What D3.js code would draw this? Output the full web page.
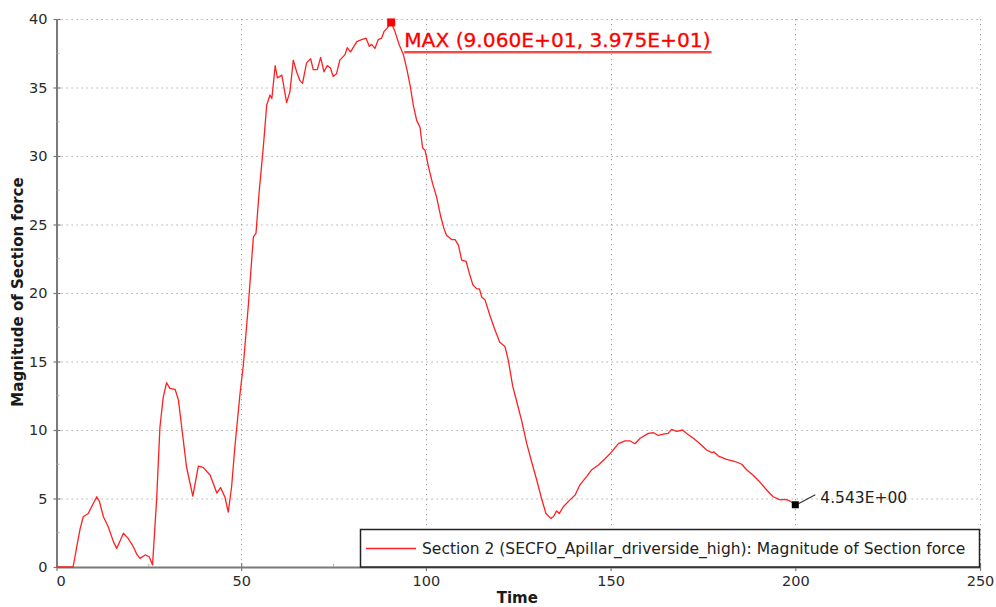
<!DOCTYPE html>
<html>
<head>
<meta charset="utf-8">
<script src="https://cdn.jsdelivr.net/npm/d3@7"></script>
<style>
html,body{margin:0;padding:0;background:#fff;}
svg{display:block;font-family:"DejaVu Sans",sans-serif;}
</style>
</head>
<body>
<svg id="chart" width="996" height="607"></svg>
<script>
const time = [0,4.5,5.5,6.4,7.25,8.6,9.5,10.9,11.6,12.7,14,15.4,16.3,17.2,18.1,19.4,20.8,21.8,22.6,24,25.1,26,27.1,28,28.9,29.8,30.7,32.1,33,33.9,35.2,36.9,38.4,39.7,41.6,43.4,44.4,45.6,46.5,47.4,48.3,49.7,50.6,51.9,53.3,54,54.9,56,56.9,57.8,58.3,59.2,59.8,61,62.3,63.2,64.1,65,65.9,66.6,67.7,68.8,69.5,70.6,71.5,72.4,73.3,74.2,74.9,75.8,76.7,78.1,78.7,79.6,81.3,82.6,83.8,84.7,85.3,86.2,87.1,88,88.7,89.4,90.6,91.6,92.8,93.9,94.8,95.7,96.6,97.5,98.4,99.1,99.8,100.7,101.8,102.9,104,104.9,105.6,107,107.9,108.8,109.7,110.9,111.8,112.7,113.8,114.5,115.1,116,117.4,118.7,120,121.4,122.3,123.5,124.7,125.9,127.3,128.6,130,131.3,132.5,133.8,134.5,135.4,136.1,137.2,139,140.4,141.7,143.5,144.9,146.7,148.5,150.3,152.1,153.9,155.3,156.6,158,160.2,161.6,162.9,164.3,165.6,166.5,167.9,169.5,170.6,172.4,174.2,176,177.4,178,179.2,181.4,183.7,185.5,186.8,188.6,190.4,192.3,194,195.9,197.2,198.4,200];
const force = [0,0,1.5,2.8,3.67,3.9,4.4,5.13,4.8,3.67,2.94,1.85,1.36,1.9,2.46,2.09,1.48,0.9,0.63,0.88,0.75,0.15,4.9,10.2,12.4,13.45,13.04,12.97,12.2,10.2,7.3,5.18,7.37,7.27,6.7,5.4,5.8,5.1,4.0,5.86,8.8,12.7,14.8,19.0,24.1,24.35,27.5,30.7,33.7,34.45,34.2,36.6,35.7,35.9,33.9,34.7,37.0,36.15,35.5,35.3,36.8,37.1,36.3,36.3,37.2,36.15,36.6,36.4,35.8,36.0,37.0,37.4,37.9,37.6,38.35,38.5,38.6,38.0,38.15,37.85,38.5,38.6,39.1,39.3,39.75,39.1,38.1,37.4,36.4,35.2,33.7,32.6,32.1,30.6,30.4,29.2,28.0,27.0,25.6,24.7,24.2,23.9,23.9,23.5,22.4,22.3,21.4,20.6,20.3,20.3,19.7,19.5,18.3,17.3,16.4,16.1,15.1,13.2,11.95,10.7,9.0,7.7,6.35,5.0,3.9,3.55,3.67,4.1,3.9,4.4,4.9,5.25,6.0,6.6,7.1,7.45,7.9,8.4,9.0,9.2,9.2,9.0,9.4,9.75,9.8,9.6,9.7,9.75,10.05,9.9,10.0,9.75,9.4,9.0,8.54,8.35,8.4,8.1,7.86,7.7,7.5,7.1,6.7,6.2,5.6,5.13,4.9,4.94,4.84,4.543];
const xTicks = [0,50,100,150,200,250];
const yTicks = [0,5,10,15,20,25,30,35,40];
const xMinor = [25,75,125,175,225];
const yMinor = [2.5,7.5,12.5,17.5,22.5,27.5,32.5,37.5];
const maxPoint = [90.6, 39.75];
const endPoint = [200, 4.543];
const maxLabel = "MAX (9.060E+01, 3.975E+01)";
const endLabel = "4.543E+00";
const seriesName = "Section 2 (SECFO_Apillar_driverside_high): Magnitude of Section force";
const xTitle = "Time";
const yTitle = "Magnitude of Section force";

const svg = d3.select("#chart");
const x = d3.scaleLinear().domain([0,250]).range([56.5,980]);
const y = d3.scaleLinear().domain([0,40]).range([567,19]);
const L = x.range()[0], R = x.range()[1], T = y.range()[1], B = y.range()[0];

// grid
const grid = svg.append("g");
grid.selectAll("line.h").data(yTicks.filter(d=>d>0)).join("line")
  .attr("x1",L).attr("x2",R).attr("y1",d=>y(d)+0.5).attr("y2",d=>y(d)+0.5)
  .attr("stroke","#9a9a9a").attr("stroke-width",1).attr("stroke-dasharray","1.2,3.8");
grid.selectAll("line.v").data(xTicks.filter(d=>d>0)).join("line")
  .attr("y1",T).attr("y2",B).attr("x1",d=>Math.round(x(d))+0.5).attr("x2",d=>Math.round(x(d))+0.5)
  .attr("stroke","#9a9a9a").attr("stroke-width",1).attr("stroke-dasharray","1.2,3.8");

// axes
const axisCol = "#7a7a7a";
const yAxis = svg.append("g").attr("transform",`translate(${L},0)`)
  .call(d3.axisLeft(y).tickValues(yTicks).tickSizeInner(4).tickSizeOuter(0).tickPadding(5));
yAxis.select(".domain").attr("stroke",axisCol).attr("stroke-width",2);
yAxis.selectAll(".tick line").attr("stroke",axisCol).attr("x1",4).attr("x2",-3).attr("stroke-width",1.2);
yAxis.selectAll(".tick text").attr("fill","#2a2a2a").style("font-size","14.5px").style("font-family","DejaVu Sans");
yAxis.selectAll("line.minor").data(yMinor).join("line").attr("class","minor")
  .attr("x1",0).attr("x2",3).attr("y1",d=>y(d)).attr("y2",d=>y(d)).attr("stroke","#aaa");

const xAxis = svg.append("g").attr("transform",`translate(0,${B})`)
  .call(d3.axisBottom(x).tickValues(xTicks).tickSizeInner(4).tickSizeOuter(0).tickPadding(5));
xAxis.select(".domain").attr("stroke",axisCol).attr("stroke-width",2);
xAxis.selectAll(".tick line").attr("stroke",axisCol).attr("y1",-4).attr("y2",4).attr("stroke-width",1.2);
xAxis.selectAll(".tick text").attr("fill","#2a2a2a").style("font-size","14.5px").style("font-family","DejaVu Sans");
xAxis.selectAll(".tick text").filter(d=>d===0).attr("dx",4);
xAxis.selectAll("line.minor").data(xMinor).join("line").attr("class","minor")
  .attr("y1",0).attr("y2",-3).attr("x1",d=>x(d)).attr("x2",d=>x(d)).attr("stroke","#aaa");

// titles
svg.append("text").attr("x",(L+R)/2 - 1).attr("y",603).attr("text-anchor","middle")
  .style("font-weight","bold").style("font-size","15px").attr("fill","#1a1a1a").text(xTitle);
svg.append("text").attr("transform","translate(23,292) rotate(-90)").attr("text-anchor","middle")
  .style("font-weight","bold").style("font-size","15px").attr("fill","#1a1a1a").text(yTitle);

// line
const data = time.map((t,i)=>[t,force[i]]);
svg.append("path").datum(data)
  .attr("d", d3.line().x(d=>x(d[0])).y(d=>y(d[1])))
  .attr("fill","none").attr("stroke","#ff2020").attr("stroke-width",1.3).attr("stroke-linejoin","round");

// max marker & label
svg.append("rect").attr("x",x(maxPoint[0])-4).attr("y",y(maxPoint[1])-4).attr("width",8).attr("height",8).attr("fill","#ff0000");
const mt = svg.append("text").attr("x",x(maxPoint[0])+13).attr("y",y(maxPoint[1])+25)
  .style("font-size","20.2px").attr("fill","#ff0000").attr("stroke","#ff0000").attr("stroke-width",0.3).text(maxLabel);
const mb = mt.node().getBBox();
svg.append("line").attr("x1",mb.x).attr("x2",mb.x+mb.width+1).attr("y1",y(maxPoint[1])+29.5).attr("y2",y(maxPoint[1])+29.5)
  .attr("stroke","#ff0000").attr("stroke-width",1.5);
svg.append("line").attr("x1",mb.x).attr("x2",mb.x+mb.width+1).attr("y1",y(maxPoint[1])+31).attr("y2",y(maxPoint[1])+31)
  .attr("stroke","#ffb0b0").attr("stroke-width",1);

// end marker & label
const ex = x(endPoint[0]), ey = y(endPoint[1]);
svg.append("line").attr("x1",ex+3).attr("y1",ey-1).attr("x2",ex+20).attr("y2",ey-10).attr("stroke","#333").attr("stroke-width",1.2);
svg.append("rect").attr("x",ex-3.5).attr("y",ey-3.5).attr("width",7).attr("height",7).attr("fill","#000");
svg.append("text").attr("x",ex+25).attr("y",ey-1.5).style("font-size","15.5px").attr("fill","#222").text(endLabel);

// legend
const lg = svg.append("g");
lg.append("rect").attr("x",360.5).attr("y",529.5).attr("width",619).attr("height",37.5)
  .attr("fill","#fff").attr("stroke","#222").attr("stroke-width",1.5);
lg.append("line").attr("x1",366).attr("x2",416).attr("y1",548.5).attr("y2",548.5).attr("stroke","#ff2020").attr("stroke-width",1.3);
lg.append("text").attr("x",422).attr("y",554).style("font-size","15.5px").attr("fill","#222").text(seriesName);
</script>
</body>
</html>
